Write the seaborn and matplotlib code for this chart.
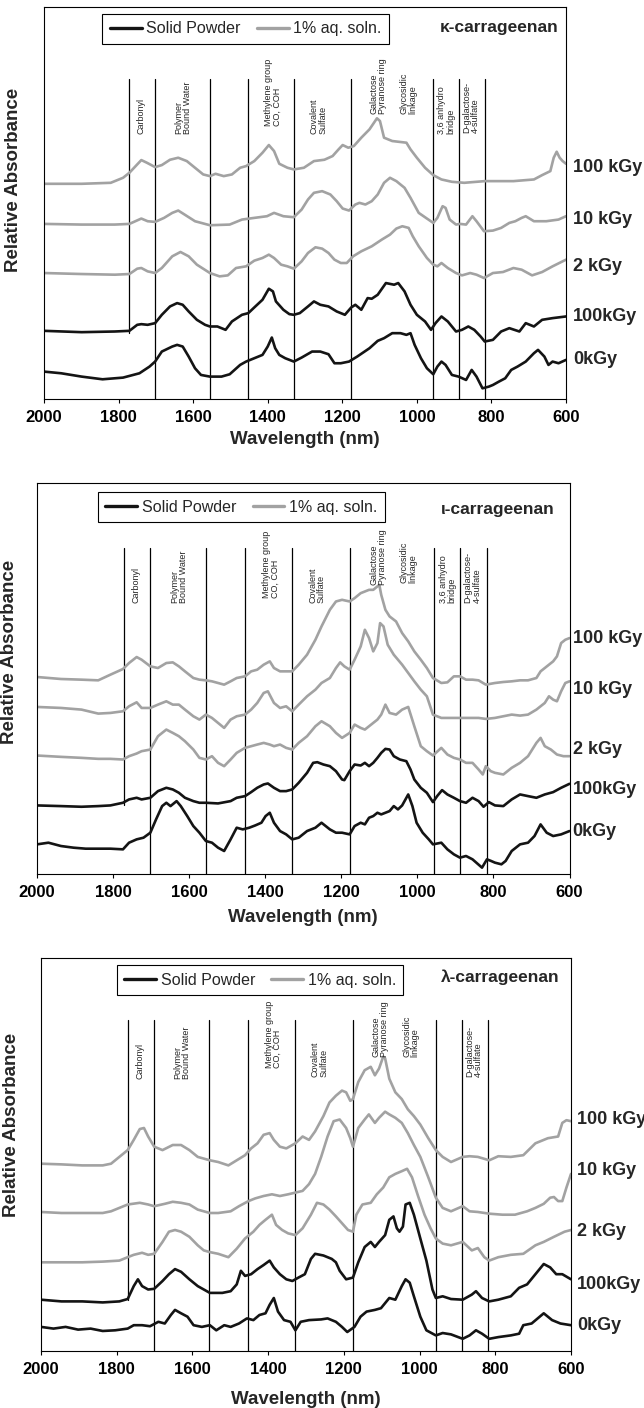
import matplotlib
matplotlib.use("Agg")
import matplotlib.pyplot as plt
import seaborn as sns
from matplotlib.lines import Line2D

# ---------------- data (wavelength nm, relative absorbance a.u.) ----------------
# kappa-carrageenan
k_aq100_wl = [2000,1899,1821,1788,1771,1750,1739,1724,1702,1684,1662,1640,1617,1595,1573,1555,1540,1518,1496,1474,1458,1436,1414,1397,1383,1369,1347,1330,1303,1276,1248,1226,1210,1199,1184,1169,1149,1127,1107,1099,1088,1066,1028,1017,1000,978,956,934,906,873,818,741,686,664,642,633,625,617,609,600]
k_aq100_abs = [64.4,64.4,64.7,66.2,67.7,70.2,71.5,70.7,69.4,70.0,71.6,72.2,71.2,69.2,67.2,66.7,67.4,66.7,67.2,69.2,69.7,71.2,73.7,76.0,74.2,70.4,69.2,68.7,69.2,71.2,71.6,72.7,74.7,76.0,75.2,75.7,78.2,80.7,84.0,83.2,78.2,77.2,76.7,74.7,72.2,69.2,67.0,65.7,65.0,64.7,65.2,65.2,65.7,67.0,68.2,72.2,74.0,72.2,71.2,70.4]
k_aq10_wl = [2000,1899,1810,1771,1755,1739,1722,1702,1678,1656,1640,1623,1595,1555,1502,1469,1436,1402,1383,1358,1330,1309,1292,1276,1254,1232,1215,1199,1182,1165,1154,1138,1121,1105,1088,1072,1055,1033,1017,995,973,956,945,931,923,912,895,884,868,851,840,820,796,774,752,736,719,708,686,653,620,600]
k_aq10_abs = [52.4,52.2,52.2,52.4,53.2,54.0,53.2,53.0,54.2,55.7,56.4,55.2,53.2,52.0,52.2,53.7,54.2,54.7,55.7,54.7,54.4,56.7,59.7,61.7,62.2,61.2,59.2,57.0,56.4,58.2,58.7,58.2,59.2,61.2,64.7,66.2,65.2,63.2,60.2,55.7,54.0,52.7,54.2,57.7,57.2,53.7,52.2,52.4,52.2,54.7,53.2,50.2,50.4,51.2,52.7,53.2,54.2,54.7,53.2,53.2,53.7,54.7]
k_aq2_wl = [2000,1899,1810,1771,1750,1739,1722,1702,1684,1656,1634,1612,1590,1555,1529,1507,1485,1458,1436,1414,1397,1383,1364,1347,1330,1309,1292,1272,1254,1237,1221,1204,1188,1171,1149,1121,1094,1072,1055,1039,1022,1011,995,973,956,945,934,917,895,879,857,840,820,796,769,741,719,691,664,636,600]
k_aq2_abs = [37.7,37.4,37.2,37.4,39.0,39.2,38.2,37.7,39.2,42.7,44.0,42.7,40.2,37.7,36.7,37.0,39.2,39.7,41.4,42.2,43.2,42.2,40.2,39.7,39.0,41.2,43.7,45.4,45.0,43.7,41.7,40.7,40.7,42.7,44.2,45.7,47.7,49.2,51.0,51.7,51.2,48.7,45.7,42.2,40.2,39.7,40.7,39.2,37.7,37.0,37.7,37.2,36.2,37.7,38.0,39.2,38.7,37.0,38.0,39.7,41.7]
k_sp100_wl = [2000,1899,1810,1771,1750,1739,1722,1702,1684,1662,1643,1628,1612,1590,1568,1555,1535,1513,1496,1469,1452,1436,1414,1397,1386,1378,1358,1342,1330,1314,1292,1276,1259,1237,1215,1193,1176,1165,1149,1132,1121,1105,1083,1061,1050,1033,1017,1000,978,962,950,934,917,895,879,862,846,829,818,796,774,752,725,708,686,664,636,600]
k_sp100_abs = [20.4,20.0,20.2,20.4,22.2,22.4,22.2,22.7,25.2,27.7,28.7,28.2,26.2,23.7,22.2,21.7,21.7,20.7,23.2,25.2,25.7,27.4,29.7,33.0,32.2,29.2,26.7,25.4,25.2,25.7,27.7,29.2,28.2,27.7,26.2,25.2,27.4,28.2,26.7,30.2,30.0,31.2,34.7,34.2,34.7,32.2,28.2,25.2,23.2,20.7,22.7,24.7,23.2,20.2,20.7,21.7,20.7,18.7,17.2,17.7,20.2,21.2,20.2,22.7,21.7,23.7,24.2,24.7]
k_sp0_wl = [2000,1954,1899,1843,1788,1744,1717,1702,1684,1656,1643,1628,1612,1595,1579,1555,1524,1502,1474,1458,1436,1414,1400,1389,1380,1369,1353,1330,1309,1281,1259,1237,1221,1204,1182,1160,1127,1105,1088,1066,1044,1028,1017,1006,989,973,956,945,934,923,906,888,868,853,840,824,807,796,780,763,747,730,708,686,675,658,647,636,620,600]
k_sp0_abs = [8.2,7.7,6.7,5.9,6.4,7.7,9.7,11.2,14.2,15.7,16.2,15.7,12.7,9.2,7.2,6.7,6.7,7.4,10.2,11.2,12.2,13.2,15.7,18.4,15.2,13.2,12.2,11.2,12.4,14.2,14.2,13.4,10.7,10.7,11.2,12.7,15.2,17.4,18.2,19.7,19.7,19.2,19.7,16.2,12.2,9.2,7.4,9.7,11.2,10.2,7.2,6.7,5.7,8.7,6.7,3.2,3.7,4.2,5.2,6.2,8.7,9.7,11.2,13.7,14.7,12.7,10.2,11.2,10.7,11.7]

# iota-carrageenan
i_aq100_wl = [2000,1937,1883,1839,1807,1774,1758,1738,1725,1702,1682,1660,1643,1627,1611,1589,1573,1556,1540,1524,1508,1491,1475,1453,1437,1421,1404,1388,1377,1361,1345,1329,1312,1290,1268,1252,1230,1214,1198,1178,1165,1149,1138,1127,1116,1100,1095,1084,1073,1056,1040,1024,1008,991,975,959,937,921,904,888,872,855,839,820,796,774,752,730,709,687,676,665,654,643,633,622,611,600]
i_aq100_abs = [59.3,58.7,58.5,58.3,60.0,61.7,63.5,65.3,64.5,62.5,62.0,63.5,63.7,62.5,61.0,59.0,58.5,58.3,58.0,57.5,57.0,58.0,59.0,59.5,61.0,61.5,63.0,64.0,62.0,61.0,61.0,61.0,63.0,66.0,70.5,74.5,79.5,82.0,82.5,82.0,83.0,84.5,85.0,85.5,85.5,87.0,84.0,79.5,77.5,76.0,72.5,70.0,67.0,64.5,62.0,59.0,57.5,57.7,59.5,59.5,58.5,58.5,58.3,57.0,57.5,57.8,58.0,58.3,58.3,59.0,61.0,62.0,63.0,64.0,65.5,69.5,70.5,71.0]
i_aq10_wl = [2000,1937,1883,1839,1807,1774,1758,1738,1725,1702,1682,1660,1643,1627,1611,1589,1573,1556,1540,1524,1508,1491,1475,1453,1437,1421,1404,1393,1377,1361,1345,1329,1312,1290,1268,1252,1230,1214,1203,1192,1178,1165,1149,1138,1127,1116,1105,1098,1089,1078,1062,1040,1024,1008,991,975,959,937,921,904,888,872,855,839,820,796,774,752,730,709,687,665,654,643,633,622,611,600]
i_aq10_abs = [50.3,50.0,49.5,48.3,48.5,49.0,50.5,51.7,50.0,50.0,51.0,52.0,51.0,51.0,49.5,47.5,46.5,48.0,47.0,45.5,44.0,46.5,47.5,48.0,49.5,51.5,54.5,55.0,51.5,50.0,50.5,49.0,51.0,53.5,55.5,57.5,59.0,62.0,63.7,62.5,61.5,64.5,68.5,73.5,71.0,67.0,69.5,75.5,74.5,69.0,66.0,63.0,60.5,58.0,55.5,53.5,48.0,47.0,47.0,47.0,47.0,47.0,47.0,47.0,46.7,47.0,47.5,48.0,47.7,48.0,49.5,51.5,53.5,52.5,52.0,55.0,57.5,58.0]
i_aq2_wl = [2000,1937,1883,1839,1807,1774,1758,1738,1725,1702,1682,1660,1643,1627,1611,1589,1573,1556,1540,1524,1508,1491,1475,1453,1437,1421,1404,1388,1377,1361,1345,1329,1312,1290,1268,1252,1230,1214,1198,1178,1165,1149,1138,1127,1116,1105,1095,1084,1073,1056,1040,1024,1008,991,975,959,937,921,904,888,872,855,839,828,820,807,796,774,752,730,709,687,676,665,649,633,616,600]
i_aq2_abs = [35.7,35.3,35.0,34.7,34.7,34.5,35.5,36.3,37.0,37.5,41.5,43.5,42.5,41.5,40.0,37.5,35.0,34.5,35.5,33.5,32.5,34.5,36.5,38.0,38.5,39.0,39.5,39.0,38.5,39.0,38.0,37.5,39.5,41.5,44.5,46.0,44.5,42.5,41.0,42.5,45.0,44.0,43.5,44.5,45.5,46.5,48.0,51.0,48.5,48.0,49.5,50.3,44.5,38.5,37.0,35.7,38.0,36.0,35.0,34.5,33.5,33.5,31.5,30.0,32.5,31.0,30.5,30.0,32.0,33.5,35.5,39.5,41.0,38.5,37.5,36.0,35.5,35.5]
i_sp100_wl = [2000,1937,1883,1839,1807,1774,1758,1738,1725,1702,1682,1660,1643,1627,1611,1589,1573,1556,1524,1491,1475,1453,1437,1421,1404,1393,1377,1361,1345,1329,1312,1290,1274,1263,1247,1230,1214,1198,1192,1178,1165,1149,1138,1127,1116,1105,1095,1084,1073,1062,1046,1029,1018,1008,991,975,959,948,935,921,904,888,872,855,839,826,812,796,774,752,730,709,687,665,643,622,600]
i_sp100_abs = [20.7,20.5,20.3,20.5,20.7,21.5,22.5,23.0,22.5,23.0,25.0,26.0,25.5,24.5,23.0,22.0,21.5,21.5,21.3,22.0,23.0,23.5,24.7,26.0,27.0,27.3,26.0,25.0,25.0,25.5,27.5,30.5,33.5,33.7,33.0,32.5,31.0,28.5,28.3,31.0,33.0,32.7,33.5,32.5,33.5,35.0,36.5,37.7,37.5,35.5,34.5,34.0,31.5,28.5,26.0,24.5,21.7,23.5,25.3,24.0,23.0,22.0,21.5,23.0,22.0,20.3,21.7,20.7,20.5,22.5,24.0,23.5,23.0,24.0,24.7,26.0,27.2]
i_sp0_wl = [2000,1970,1937,1904,1872,1839,1807,1774,1758,1738,1720,1702,1687,1671,1660,1649,1633,1622,1605,1589,1573,1556,1540,1524,1508,1491,1475,1459,1442,1426,1410,1399,1388,1377,1361,1345,1329,1312,1290,1268,1252,1230,1214,1198,1178,1165,1149,1138,1127,1116,1105,1095,1084,1073,1062,1051,1040,1024,1013,1002,986,970,959,937,921,904,888,872,855,845,830,817,806,796,779,768,752,730,709,692,676,660,643,622,600]
i_sp0_abs = [9.0,9.5,8.5,8.0,7.7,7.7,7.7,7.5,9.5,10.5,11.0,12.5,16.5,20.5,21.5,20.5,22.0,20.5,17.5,14.5,12.5,10.0,9.5,8.0,7.0,10.5,14.0,13.5,14.0,14.7,15.5,17.5,18.5,15.5,13.0,12.0,10.5,11.0,13.0,14.0,15.5,13.5,12.5,12.5,12.0,14.5,15.5,15.0,17.0,17.5,18.5,18.0,18.5,19.0,20.5,19.5,20.7,24.0,20.5,15.5,12.5,10.5,9.0,9.5,7.5,6.0,5.0,5.5,4.5,3.5,2.0,4.5,4.0,3.5,3.0,4.0,7.0,9.0,9.5,11.5,15.0,12.5,11.5,12.0,13.0]

# lambda-carrageenan
l_aq100_wl = [2000,1946,1891,1837,1815,1793,1771,1755,1739,1728,1717,1701,1679,1652,1630,1608,1586,1554,1532,1505,1483,1461,1445,1428,1412,1396,1385,1369,1352,1328,1309,1292,1276,1254,1238,1221,1205,1194,1183,1176,1162,1145,1129,1118,1107,1096,1091,1080,1064,1047,1031,1015,998,977,957,939,917,886,868,846,816,792,759,726,694,661,634,623,612,600]
l_aq100_abs = [55.0,54.8,54.5,54.5,55.0,57.0,59.0,62.0,65.2,65.5,63.0,60.0,59.0,60.5,60.5,59.0,57.0,56.0,55.5,54.5,56.0,57.5,59.5,61.0,63.5,64.0,62.0,60.0,59.5,61.0,63.0,62.0,64.5,69.0,73.0,75.0,76.5,76.0,73.5,74.0,79.0,82.5,83.5,81.0,83.0,86.5,86.0,80.0,76.0,74.0,71.0,69.0,66.5,62.5,59.0,57.0,55.5,57.0,57.2,57.0,56.0,57.2,57.0,57.5,61.0,62.5,63.0,67.0,67.8,67.5]
l_aq10_wl = [2000,1946,1891,1837,1815,1793,1771,1739,1717,1701,1673,1652,1630,1608,1586,1554,1532,1499,1477,1452,1434,1412,1390,1369,1347,1328,1309,1292,1276,1260,1243,1227,1211,1194,1183,1176,1162,1145,1134,1118,1107,1091,1080,1064,1047,1031,1015,998,977,957,939,917,886,868,846,816,781,748,716,694,672,655,645,634,623,612,600]
l_aq10_abs = [40.8,40.5,40.5,40.5,41.0,42.0,43.0,43.5,43.0,42.5,43.2,43.8,43.5,43.0,41.5,40.5,40.5,41.0,42.5,44.0,44.8,45.5,46.0,45.5,46.0,46.5,47.0,49.0,52.0,57.0,63.0,67.5,68.0,65.5,62.5,60.0,65.5,68.0,69.5,67.0,68.5,70.3,69.5,68.5,67.0,64.0,60.5,57.0,51.0,45.0,42.0,41.0,42.5,41.0,40.8,40.3,40.0,40.0,41.0,42.0,43.2,45.0,45.2,44.0,44.0,48.0,52.0]
l_aq2_wl = [2000,1946,1891,1837,1793,1771,1755,1733,1717,1701,1679,1662,1646,1630,1608,1586,1570,1554,1532,1505,1483,1461,1439,1423,1407,1390,1379,1363,1347,1328,1309,1287,1271,1254,1238,1221,1205,1189,1176,1167,1151,1129,1113,1096,1080,1064,1047,1033,1020,1004,987,971,957,939,917,886,862,846,829,816,792,759,726,694,672,645,617,600]
l_aq2_abs = [26.0,26.0,26.0,26.2,26.5,27.5,28.2,28.8,28.2,28.5,32.0,35.0,35.5,35.0,33.5,31.0,29.5,29.0,28.5,27.5,30.0,33.0,35.0,37.0,38.5,40.0,37.0,35.5,34.5,34.0,36.0,40.0,43.5,43.0,41.5,39.5,37.5,35.5,35.0,40.0,43.0,43.5,46.0,48.0,51.0,52.0,52.8,53.5,51.0,45.5,40.0,36.0,33.0,31.5,31.0,32.0,29.5,30.2,27.5,26.5,27.5,28.2,28.5,31.0,32.0,33.5,35.0,35.5]
l_sp100_wl = [2000,1946,1891,1837,1793,1771,1755,1744,1733,1717,1701,1679,1662,1646,1630,1608,1586,1554,1521,1499,1483,1472,1461,1445,1428,1412,1396,1385,1369,1352,1336,1320,1303,1287,1276,1254,1232,1221,1211,1194,1176,1162,1145,1129,1118,1107,1091,1080,1069,1060,1053,1044,1037,1026,1015,998,982,966,957,939,917,886,862,851,835,816,792,759,737,716,694,672,655,639,623,600]
l_sp100_abs = [15.0,14.5,14.5,14.2,14.5,15.2,19.0,21.0,19.0,18.0,18.2,20.5,22.5,24.0,23.2,21.0,19.0,17.0,17.0,17.5,19.5,23.5,22.0,22.5,24.0,25.2,26.5,24.5,22.5,21.0,20.5,21.5,22.5,27.0,28.5,28.0,27.0,26.0,23.5,21.0,21.5,26.0,30.5,32.0,30.5,32.0,34.0,38.5,39.5,36.0,35.0,36.5,43.0,43.5,40.0,33.0,26.5,18.0,15.5,16.0,15.2,15.0,16.5,17.5,15.5,14.5,15.0,16.0,18.5,19.5,22.5,25.5,24.5,22.5,22.5,21.0]
l_sp0_wl = [2000,1967,1935,1902,1869,1837,1804,1771,1755,1733,1712,1690,1673,1657,1646,1630,1613,1597,1575,1554,1537,1516,1499,1477,1456,1439,1423,1407,1396,1385,1374,1358,1341,1328,1314,1292,1260,1243,1221,1205,1191,1172,1156,1140,1118,1102,1080,1064,1047,1037,1026,1015,998,982,957,939,917,886,868,851,835,816,792,759,737,726,704,688,672,650,628,600]
l_sp0_abs = [7.0,6.5,7.0,6.2,6.5,5.8,6.0,6.5,7.5,7.5,7.2,8.5,8.0,10.5,12.0,11.0,10.0,7.5,7.0,7.5,6.0,7.5,7.0,8.0,9.5,9.0,10.5,11.0,13.5,15.5,11.5,9.0,8.5,6.0,8.5,9.0,9.2,9.5,8.5,7.0,5.5,7.0,10.0,11.5,12.0,12.5,15.5,15.0,19.0,21.0,20.0,16.0,10.0,6.0,4.5,5.2,4.8,3.5,4.5,6.0,5.0,3.5,4.0,4.5,5.0,7.5,8.0,9.5,11.0,9.0,8.0,7.5]

dose_labels = ["100 kGy", "10 kGy", "2 kGy", "100kGy", "0kGy"]
legend_labels = ["Solid Powder", "1% aq. soln."]
panel_titles = ["\u03ba-carrageenan", "\u03b9-carrageenan", "\u03bb-carrageenan"]
band_edges = [1771, 1702, 1555, 1453, 1330, 1177, 957, 888, 818]
band_names = ["Carbonyl", "Polymer\nBound Water", "Methylene group\nCO, COH", "Covalent\nSulfate",
              "Galactose\nPyranose ring", "Glycosidic\nlinkage", "3,6 anhydro\nbridge", "D-galactose-\n4-sulfate"]
band_centers = [1739, 1627, 1386, 1264, 1103, 1023, 921, 855]
x_ticks = [2000, 1800, 1600, 1400, 1200, 1000, 800, 600]

# ---------------- style ----------------
sns.set_style("white")
plt.rcParams['font.family'] = ['Liberation Sans', 'DejaVu Sans']
BLACK = "#141414"
GRAY = "#a2a2a2"

W, H = 644, 1408
fig = plt.figure(figsize=(W / 100, H / 100), dpi=100)

panels = [
    dict(curves=[(k_aq100_wl, k_aq100_abs, GRAY), (k_aq10_wl, k_aq10_abs, GRAY), (k_aq2_wl, k_aq2_abs, GRAY),
                 (k_sp100_wl, k_sp100_abs, BLACK), (k_sp0_wl, k_sp0_abs, BLACK)],
         box=(44, 6.7, 566, 399), ytop=117.4, label_y=[0.589, 0.457, 0.338, 0.210, 0.100], label_x=1.013,
         title_xy=(0.985, 0.947), leg_xy=(0.112, 0.981), line_top=0.815, carb_bottom=0.168,
         band_y=[0.675, 0.675, 0.696, 0.675, 0.726, 0.726, 0.675, 0.679], ylab_x=-0.042, ylab_y=0.558,
         xlab_pad=4),
    dict(curves=[(i_aq100_wl, i_aq100_abs, GRAY), (i_aq10_wl, i_aq10_abs, GRAY), (i_aq2_wl, i_aq2_abs, GRAY),
                 (i_sp100_wl, i_sp100_abs, BLACK), (i_sp0_wl, i_sp0_abs, BLACK)],
         box=(37, 482.7, 569.5, 874.3), ytop=117.7, label_y=[0.603, 0.471, 0.319, 0.217, 0.110], label_x=1.006,
         title_xy=(0.973, 0.932), leg_xy=(0.115, 0.975), line_top=0.833, carb_bottom=0.176,
         band_y=[0.692, 0.692, 0.705, 0.692, 0.739, 0.743, 0.692, 0.692], ylab_x=-0.036, ylab_y=0.569,
         xlab_pad=6),
    dict(curves=[(l_aq100_wl, l_aq100_abs, GRAY), (l_aq10_wl, l_aq10_abs, GRAY), (l_aq2_wl, l_aq2_abs, GRAY),
                 (l_sp100_wl, l_sp100_abs, BLACK), (l_sp0_wl, l_sp0_abs, BLACK)],
         box=(41, 958, 571, 1350.7), ytop=115.5, label_y=[0.589, 0.458, 0.303, 0.169, 0.065], label_x=1.011,
         title_xy=(0.978, 0.952), leg_xy=(0.143, 0.981), line_top=0.842, carb_bottom=0.13,
         band_y=[0.693, 0.693, 0.719, 0.697, 0.749, 0.749, None, 0.697], ylab_x=-0.040, ylab_y=0.574,
         xlab_pad=10),
]

for p, title in zip(panels, panel_titles):
    x0, y0, x1, y1 = p["box"]
    ax = fig.add_axes([x0 / W, 1 - y1 / H, (x1 - x0) / W, (y1 - y0) / H])
    ax.set_xlim(2000, 600)
    ax.set_ylim(0, p["ytop"])

    # band separator lines
    xt = ax.get_xaxis_transform()
    for i, e in enumerate(band_edges):
        ymin = p["carb_bottom"] if i == 0 else 0.0
        ax.axvline(e, ymin=ymin, ymax=p["line_top"], color="black", lw=0.9, zorder=1)
    for name, cx, by in zip(band_names, band_centers, p["band_y"]):
        if by is None:
            continue
        ax.text(cx, by, name, transform=xt, rotation=90, ha="center", va="bottom",
                fontsize=6.5, multialignment="left", linespacing=0.95, zorder=3)

    # spectra
    for wl, ab, col in p["curves"]:
        n = min(len(wl), len(ab))
        sns.lineplot(x=wl[:n], y=ab[:n], ax=ax, color=col, linewidth=1.9, estimator=None,
                     sort=False, legend=False, zorder=2)

    # dose labels
    for lab, ly in zip(dose_labels, p["label_y"]):
        ax.text(p["label_x"], ly, lab, transform=ax.transAxes, ha="left", va="center",
                fontsize=13, fontweight="bold", clip_on=False)

    ax.text(p["title_xy"][0], p["title_xy"][1], title, transform=ax.transAxes, ha="right", va="center",
            fontsize=12.5, fontweight="bold")

    handles = [Line2D([0], [0], color=BLACK, lw=2.4), Line2D([0], [0], color=GRAY, lw=2.4)]
    leg = ax.legend(handles, legend_labels, loc="upper left", bbox_to_anchor=p["leg_xy"], ncol=2,
                    frameon=True, fancybox=False, edgecolor="black", framealpha=1, fontsize=11.5,
                    handlelength=2.0, handletextpad=0.3, columnspacing=1.0, borderpad=0.45,
                    borderaxespad=0)
    leg.get_frame().set_linewidth(0.8)

    ax.set_yticks([])
    ax.set_xticks(x_ticks)
    ax.set_xticklabels([str(t) for t in x_ticks], fontsize=12, fontweight="bold")
    ax.tick_params(axis="x", direction="out", length=3, width=0.8, pad=5, bottom=True, colors="black")
    for s in ax.spines.values():
        s.set_color("black")
        s.set_linewidth(0.8)
    ax.set_xlabel("Wavelength (nm)", fontsize=13.5, fontweight="bold", labelpad=p["xlab_pad"])
    ax.set_ylabel("Relative Absorbance", fontsize=13.5, fontweight="bold")
    ax.yaxis.set_label_coords(p["ylab_x"], p["ylab_y"])

fig.savefig("out.png", dpi=100)
